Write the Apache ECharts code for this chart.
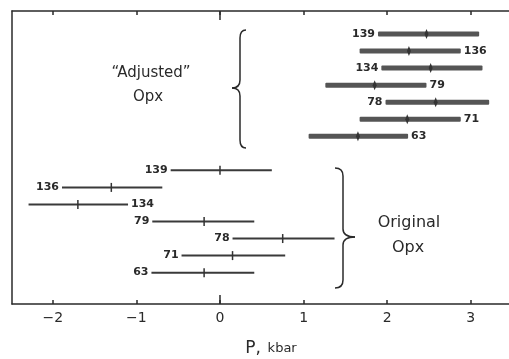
<!DOCTYPE html>
<html>
<head>
<meta charset="utf-8">
<script src="https://cdn.jsdelivr.net/npm/echarts@6/dist/echarts.min.js"></script>
<style>
  html, body { margin: 0; padding: 0; background: #fff; }
  #chart { width: 509px; height: 359px; }
</style>
</head>
<body>
<div id="chart"></div>
<script>
// Sample numbers, listed top to bottom within each group
const sampleIds = ['139', '136', '134', '79', '78', '71', '63'];

// "Adjusted" Opx pressure ranges (kbar)
const adjLow  = [1.89, 1.67, 1.93, 1.26, 1.98, 1.67, 1.06];
const adjMid  = [2.47, 2.26, 2.52, 1.85, 2.58, 2.24, 1.65];
const adjHigh = [3.10, 2.88, 3.14, 2.47, 3.22, 2.88, 2.25];
const adjLabelSide = ['left', 'right', 'left', 'right', 'left', 'right', 'right'];

// Original Opx pressure ranges (kbar)
const origLow  = [-0.59, -1.89, -2.29, -0.81, 0.15, -0.46, -0.82];
const origMid  = [ 0.00, -1.30, -1.70, -0.19, 0.75,  0.15, -0.19];
const origHigh = [ 0.62, -0.69, -1.10,  0.41, 1.37,  0.78,  0.41];
const origLabelSide = ['left', 'left', 'right', 'left', 'left', 'left', 'left'];

const xTicks = [-2, -1, 0, 1, 2, 3];
const zeroTick = [0];
const xMin = -2.488, xMax = 3.457;

const adjData = sampleIds.map((id, i) => [adjLow[i], adjMid[i], adjHigh[i], i, id]);
const origData = sampleIds.map((id, i) => [origLow[i], origMid[i], origHigh[i], i + 8, id]);

const INK = '#2a2a2a';
const numFont = 'bold 11px "DejaVu Sans", sans-serif';

function makeRenderer(thick, sides) {
  return function (params, api) {
    const row = api.value(3);
    const a = api.coord([api.value(0), row]);
    const m = api.coord([api.value(1), row]);
    const b = api.coord([api.value(2), row]);
    const left = sides[params.dataIndex] === 'left';
    const label = sampleIds[params.dataIndex];
    const children = [];
    if (thick) {
      children.push({
        type: 'rect',
        shape: { x: a[0], y: a[1] - 2.5, width: b[0] - a[0], height: 5, r: 1 },
        style: { fill: '#555' }
      });
      children.push({
        type: 'polygon',
        shape: { points: [[m[0], m[1] - 5], [m[0] + 2, m[1]], [m[0], m[1] + 5], [m[0] - 2, m[1]]] },
        style: { fill: '#333' }
      });
    } else {
      children.push({
        type: 'line',
        shape: { x1: a[0], y1: a[1], x2: b[0], y2: b[1] },
        style: { stroke: '#3a3a3a', lineWidth: 2 }
      });
      children.push({
        type: 'line',
        shape: { x1: m[0], y1: m[1] - 4.5, x2: m[0], y2: m[1] + 4.5 },
        style: { stroke: '#333', lineWidth: 1.5 }
      });
    }
    children.push({
      type: 'text',
      style: {
        x: left ? a[0] - 3 : b[0] + 3,
        y: a[1],
        text: label,
        font: numFont,
        fill: INK,
        align: left ? 'right' : 'left',
        verticalAlign: 'middle'
      }
    });
    return { type: 'group', children: children };
  };
}

// Longer tick at zero on both the top and bottom frame lines
function renderZeroTick(params, api) {
  const cs = params.coordSys;
  const x = api.coord([api.value(0), 0])[0];
  const s = { stroke: INK, lineWidth: 1.5 };
  return {
    type: 'group',
    children: [
      { type: 'line', shape: { x1: x, y1: cs.y, x2: x, y2: cs.y + 9 }, style: s },
      { type: 'line', shape: { x1: x, y1: cs.y + cs.height, x2: x, y2: cs.y + cs.height - 9 }, style: s }
    ]
  };
}

function frameAxis(position, opts) {
  return Object.assign({
    type: 'value',
    position: position,
    min: xMin,
    max: xMax,
    splitLine: { show: false },
    axisLine: { show: true, onZero: false, lineStyle: { color: INK, width: 1.5 } },
    axisTick: { show: true, inside: true, length: 4, customValues: xTicks, lineStyle: { color: INK, width: 1.5 } },
    axisLabel: { show: false }
  }, opts || {});
}

// Curly brace built from straight and quadratic pieces.
// dir = -1 points the tip left, +1 points it right.
function brace(x, yTop, yBot, yTip, dir, ends, tipLen) {
  const s = { stroke: INK, lineWidth: 1.5, fill: null };
  const r = 8;
  const ex = x - dir * ends;
  const tx = x + dir * tipLen;
  return [
    { type: 'bezierCurve', shape: { x1: ex, y1: yTop, cpx1: x, cpy1: yTop, x2: x, y2: yTop + r }, style: s },
    { type: 'line', shape: { x1: x, y1: yTop + r, x2: x, y2: yTip - r }, style: s },
    { type: 'bezierCurve', shape: { x1: x, y1: yTip - r, cpx1: x, cpy1: yTip, x2: tx, y2: yTip }, style: s },
    { type: 'bezierCurve', shape: { x1: tx, y1: yTip, cpx1: x, cpy1: yTip, x2: x, y2: yTip + r }, style: s },
    { type: 'line', shape: { x1: x, y1: yTip + r, x2: x, y2: yBot - r }, style: s },
    { type: 'bezierCurve', shape: { x1: x, y1: yBot - r, cpx1: x, cpy1: yBot, x2: ex, y2: yBot }, style: s }
  ];
}

const chart = echarts.init(document.getElementById('chart'), null, { renderer: 'canvas' });
chart.setOption({
  animation: false,
  backgroundColor: '#fff',
  grid: { left: 12, right: 0, top: 11, bottom: 55 },
  xAxis: [
    frameAxis('bottom', {
      axisLabel: {
        show: true,
        customValues: xTicks,
        margin: 7,
        color: INK,
        fontSize: 14,
        fontFamily: '"DejaVu Sans", sans-serif',
        formatter: v => String(v).replace('-', '\u2212')
      }
    }),
    frameAxis('top')
  ],
  yAxis: {
    type: 'value',
    inverse: true,
    min: -1.35,
    max: 15.84,
    splitLine: { show: false },
    axisLine: { show: true, onZero: false, lineStyle: { color: INK, width: 1.5 } },
    axisTick: { show: false },
    axisLabel: { show: false }
  },
  series: [
    {
      type: 'custom',
      name: 'Adjusted Opx',
      xAxisIndex: 0,
      yAxisIndex: 0,
      renderItem: makeRenderer(true, adjLabelSide),
      encode: { x: [0, 1, 2], y: 3 },
      data: adjData
    },
    {
      type: 'custom',
      name: 'Original Opx',
      xAxisIndex: 0,
      yAxisIndex: 0,
      renderItem: makeRenderer(false, origLabelSide),
      encode: { x: [0, 1, 2], y: 3 },
      data: origData
    },
    {
      type: 'custom',
      name: 'zero',
      xAxisIndex: 0,
      yAxisIndex: 0,
      silent: true,
      renderItem: renderZeroTick,
      encode: { x: 0 },
      data: zeroTick.map(v => [v])
    }
  ],
  graphic: [].concat(
    brace(240, 30, 148, 88, -1, 6, 8),
    brace(343, 168, 288, 237, 1, 8, 12),
    [
      {
        type: 'text',
        style: { x: 151, y: 73, text: '\u201CAdjusted\u201D', font: '15px "DejaVu Sans", sans-serif', fill: INK, align: 'center', verticalAlign: 'middle' }
      },
      {
        type: 'text',
        style: { x: 148, y: 97, text: 'Opx', font: '15px "DejaVu Sans", sans-serif', fill: INK, align: 'center', verticalAlign: 'middle' }
      },
      {
        type: 'text',
        style: { x: 409, y: 223, text: 'Original', font: '16px "DejaVu Sans", sans-serif', fill: INK, align: 'center', verticalAlign: 'middle' }
      },
      {
        type: 'text',
        style: { x: 408, y: 248, text: 'Opx', font: '16px "DejaVu Sans", sans-serif', fill: INK, align: 'center', verticalAlign: 'middle' }
      },
      {
        type: 'text',
        style: {
          x: 271, y: 349,
          text: '{p|P,}  {k|kbar}',
          align: 'center',
          verticalAlign: 'middle',
          rich: {
            p: { fontSize: 17, fontFamily: '"DejaVu Sans", sans-serif', fill: INK },
            k: { fontSize: 13, fontFamily: '"DejaVu Sans", sans-serif', fill: INK }
          }
        }
      }
    ]
  )
});
</script>
</body>
</html>
